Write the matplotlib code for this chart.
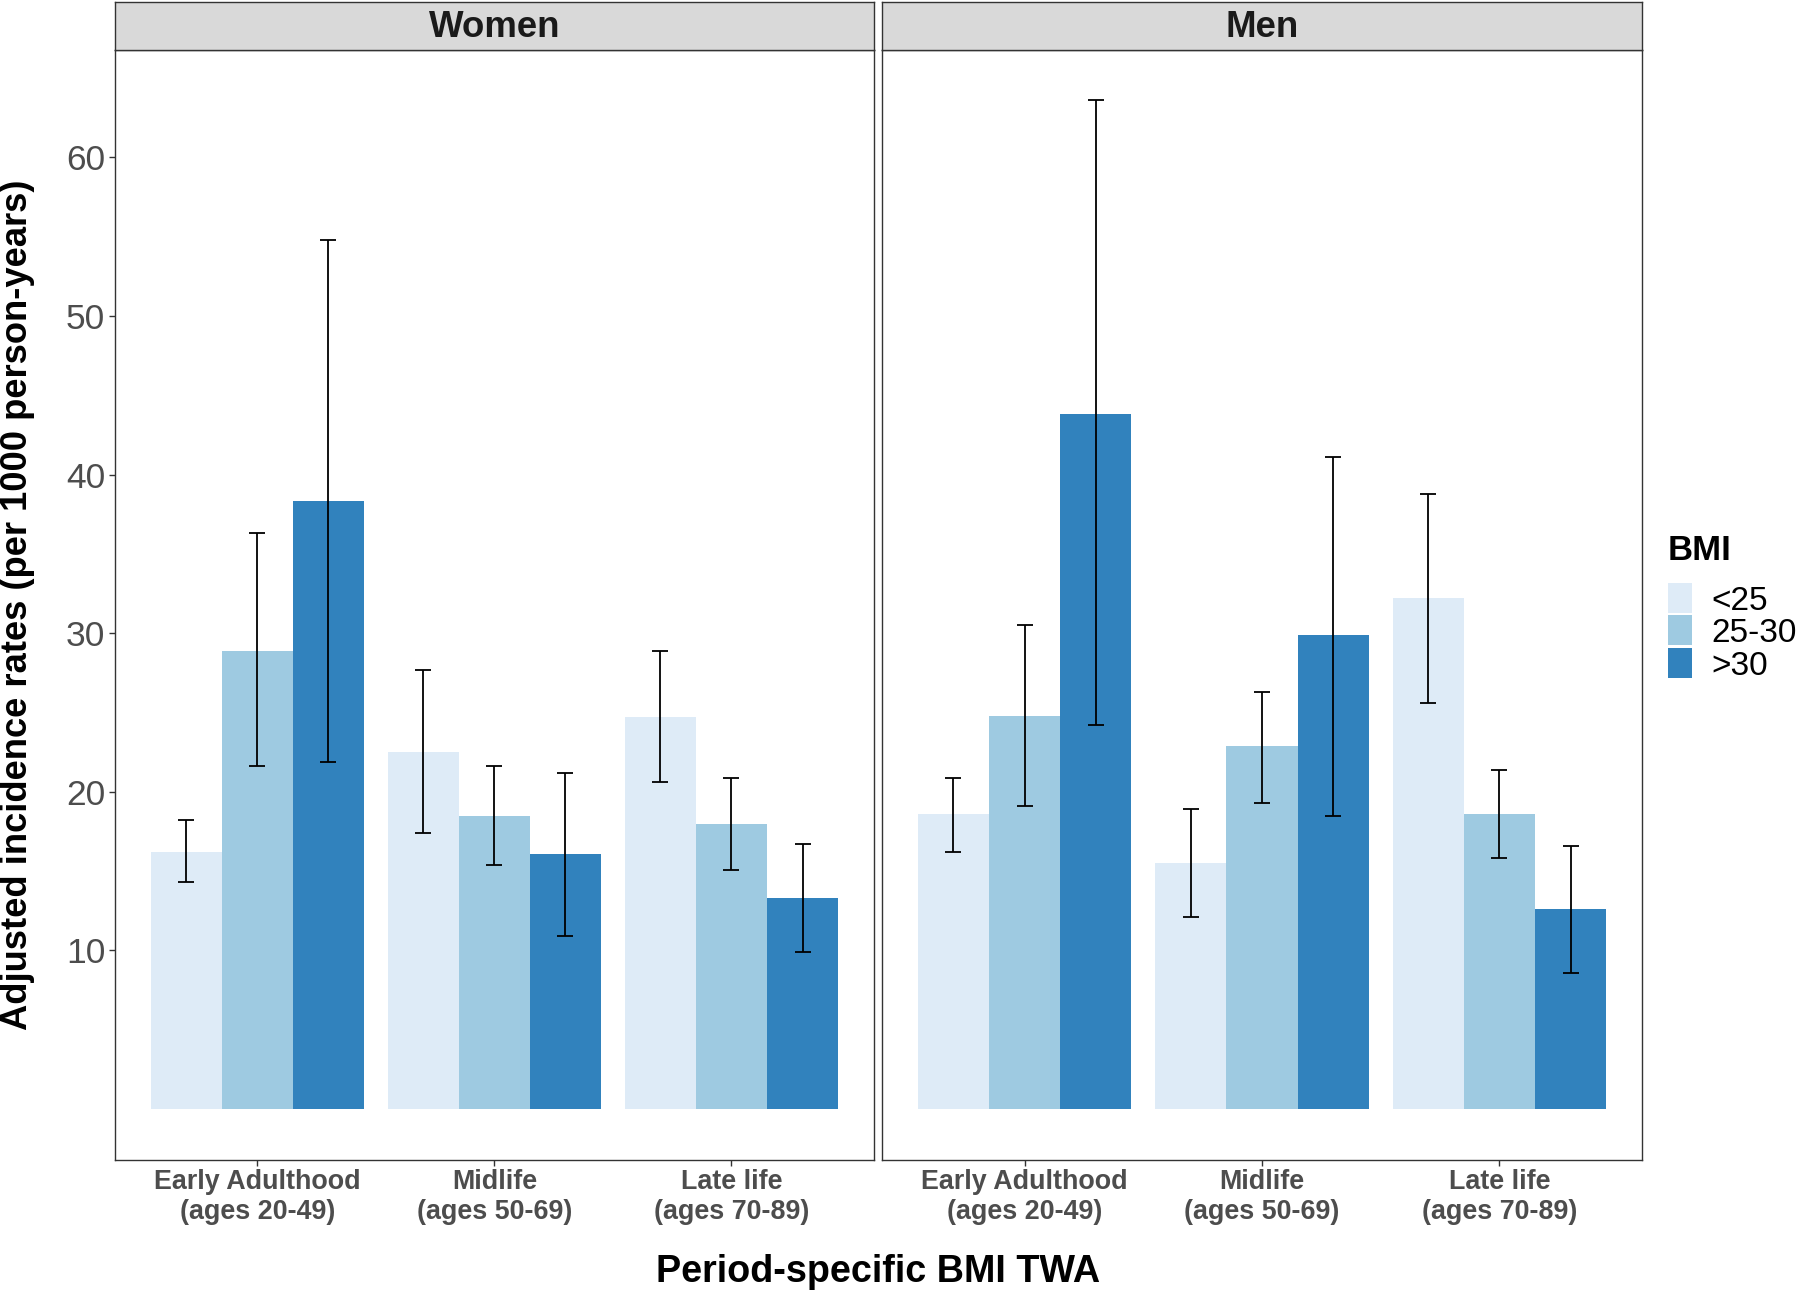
import matplotlib
matplotlib.use("Agg")
import matplotlib.pyplot as plt
from matplotlib.patches import Rectangle
import numpy as np

plt.rcParams['font.family'] = ['Liberation Sans', 'DejaVu Sans']

# ---- data ----
periods = ["Early Adulthood\n(ages 20-49)", "Midlife\n(ages 50-69)", "Late life\n(ages 70-89)"]
bmi_groups = ["<25", "25-30", ">30"]
bmi_colors = ["#DEEBF7", "#9ECAE1", "#3182BD"]
panels = ["Women", "Men"]

# rows = period, columns = BMI group
women_rate = [[16.2, 28.9, 38.3], [22.5, 18.5, 16.1], [24.7, 18.0, 13.3]]
women_low = [[14.3, 21.6, 21.9], [17.4, 15.4, 10.9], [20.6, 15.1, 9.9]]
women_high = [[18.2, 36.3, 54.8], [27.7, 21.6, 21.2], [28.9, 20.9, 16.7]]

men_rate = [[18.6, 24.8, 43.8], [15.5, 22.9, 29.9], [32.2, 18.6, 12.6]]
men_low = [[16.2, 19.1, 24.2], [12.1, 19.3, 18.5], [25.6, 15.8, 8.6]]
men_high = [[20.9, 30.5, 63.6], [18.9, 26.3, 41.1], [38.8, 21.4, 16.6]]

y_ticks = [10, 20, 30, 40, 50, 60]

# ---- figure ----
W, H = 1800, 1290
fig = plt.figure(figsize=(W / 100, H / 100), dpi=100)

def px_rect(x0, y0, x1, y1):
    return [x0 / W, 1 - y1 / H, (x1 - x0) / W, (y1 - y0) / H]

grey20 = "#333333"
grey30 = "#4D4D4D"

panel_x = [(115, 873.7), (882.3, 1641.7)]
panel_top, panel_bot = 49.7, 1159.5
strip_top = 2.0

data = {"Women": (women_rate, women_low, women_high),
        "Men": (men_rate, men_low, men_high)}

all_high = np.array(women_high + men_high).max()
ylim = (-0.05 * all_high, all_high * 1.05)

n_groups = len(bmi_groups)
dodge = 0.9
bw = dodge / n_groups
x = np.arange(1, len(periods) + 1)
px_per_unit = (panel_x[0][1] - panel_x[0][0]) / 3.2
cap_px = 0.2 / n_groups * px_per_unit  # total cap width in px
capsize_pt = cap_px / 2 * 72 / 100

for i, name in enumerate(panels):
    x0, x1 = panel_x[i]
    ax = fig.add_axes(px_rect(x0, panel_top, x1, panel_bot))
    rate, low, high = (np.array(a) for a in data[name])
    for j, g in enumerate(bmi_groups):
        xs = x + (j - (n_groups - 1) / 2) * bw
        ax.bar(xs, rate[:, j], width=bw, color=bmi_colors[j], edgecolor='none', zorder=2)
        ax.errorbar(xs, rate[:, j], yerr=[rate[:, j] - low[:, j], high[:, j] - rate[:, j]],
                    fmt='none', ecolor='black', elinewidth=1.3, capsize=capsize_pt,
                    capthick=1.3, zorder=3)
    ax.set_xlim(0.4, 3.6)
    ax.set_ylim(*ylim)
    ax.set_xticks(x)
    ax.set_xticklabels(periods, fontsize=19.4, fontweight='bold', color=grey30,
                       linespacing=1.17)
    ax.set_yticks(y_ticks)
    if i == 0:
        ax.set_yticklabels([str(t) for t in y_ticks], fontsize=25.5, color=grey30)
    else:
        ax.tick_params(axis='y', left=False, labelleft=False)
    ax.tick_params(axis='both', length=4, width=1.0, color=grey20, pad=3)
    for sp in ax.spines.values():
        sp.set_color(grey20)
        sp.set_linewidth(1.0)

    sax = fig.add_axes(px_rect(x0, strip_top, x1, panel_top))
    sax.set_facecolor("#D9D9D9")
    sax.set_xticks([]); sax.set_yticks([])
    for sp in sax.spines.values():
        sp.set_color(grey20)
        sp.set_linewidth(1.0)
    sax.text(0.5, 0.47, name, transform=sax.transAxes, ha='center', va='center',
             fontsize=26.4, fontweight='bold', color='#1A1A1A')

# axis titles
fig.text(18 / W, 1 - 604.6 / H, "Adjusted incidence rates (per 1000 person-years)",
         rotation=90, ha='center', va='center', fontsize=26.2, fontweight='bold', color='black')
fig.text(878.4 / W, 1 - 1271.5 / H, "Period-specific BMI TWA",
         ha='center', va='center', fontsize=27.2, fontweight='bold', color='black')

# legend
fig.text(1667.5 / W, 1 - 560 / H, "BMI", ha='left', va='baseline',
         fontsize=25, fontweight='bold', color='black')
key_top = 582.7
key_h = 30.2
key_pitch = 32.4
for j, g in enumerate(bmi_groups):
    ty = key_top + j * key_pitch
    fig.add_artist(Rectangle((1667.5 / W, 1 - (ty + key_h) / H), 24.2 / W, key_h / H,
                             transform=fig.transFigure, facecolor=bmi_colors[j],
                             edgecolor='none'))
    fig.text(1711.7 / W, 1 - (ty + key_h / 2) / H, g, ha='left', va='center_baseline',
             fontsize=24, color='black')

fig.savefig("out.png", dpi=100, facecolor='white')
